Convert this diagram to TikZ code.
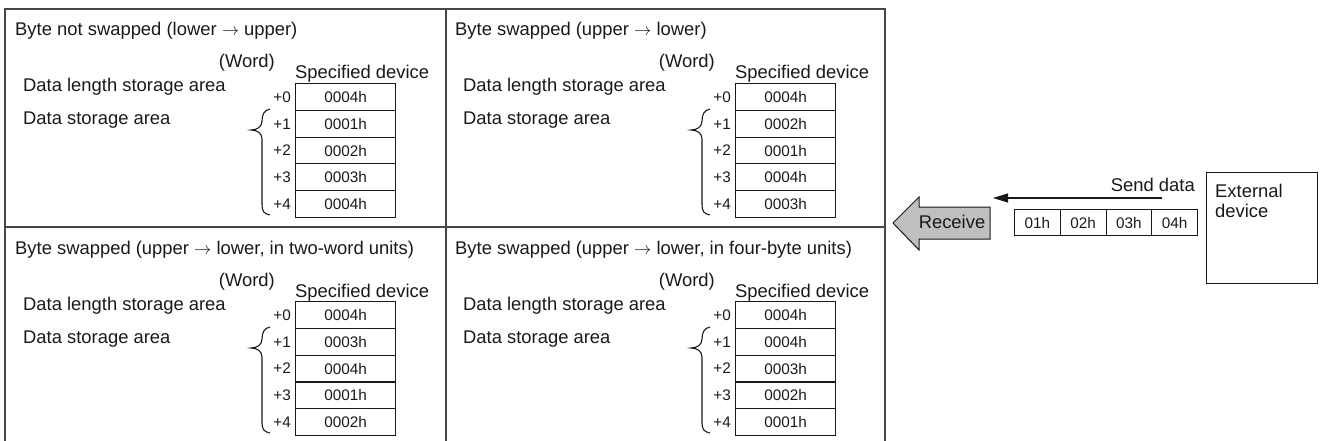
\documentclass[tikz,border=0pt]{standalone}
\usepackage{fontspec}
\setmainfont{Liberation Sans}
\usetikzlibrary{arrows.meta, positioning}
\colorlet{frame}{black!72}
\colorlet{ink}{black!90}
\colorlet{recvfill}{black!25}

\newcommand\toarr{$\rightarrow$}

% one panel: name, origin x, origin y, title, words +1..+4
\newcommand\datapanel[8]{%
  \begin{scope}[shift={(#2,#3)}]
    \node[bigtext, anchor=base west] (#1-title) at (10,27) {#4};
    \node[bigtext, anchor=base east] (#1-word) at (270,59) {(Word)};
    \node[bigtext, anchor=base west] (#1-dev) at (290,70) {Specified device};
    \node[bigtext, anchor=base west] (#1-len) at (18,83) {Data length storage area};
    \node[bigtext, anchor=base west] (#1-data) at (18,116) {Data storage area};
    \foreach \i/\v in {0/0004h, 1/#5, 2/#6, 3/#7, 4/#8} {
      \node[cell, anchor=north west] (#1-r\i) at (290,{74+26.8*\i}) {\v};
      \node[offs, left=4pt of #1-r\i] (#1-o\i) {+\i};
    }
    \draw[ink, line width=1.1pt] (265,100) .. controls (259,101) and (257,106) .. (257,112)
      .. controls (257,118) and (252,121) .. (246,121)
      .. controls (252,121) and (257,124) .. (257,130) -- (257,196)
      .. controls (257,202) and (259,205) .. (265,206);
  \end{scope}}

\begin{document}
\begin{tikzpicture}[x=1pt, y=-1pt,
    bigtext/.style={inner sep=0pt, text=ink, font=\fontsize{18.4}{20}\selectfont},
    smalltext/.style={inner sep=0pt, text=ink, font=\fontsize{15.3}{17}\selectfont},
    cell/.style={smalltext, draw=ink, line width=1.1pt, minimum width=100pt, minimum height=26.8pt},
    offs/.style={smalltext},
    byte/.style={smalltext, draw=ink, line width=1.1pt, minimum width=45.75pt, minimum height=26pt},
    >={Triangle[length=15pt, width=9pt]}]

  \useasboundingbox (0,0) rectangle (1320,441);

  % --- frame of the four panels ----------------------------------------------
  \draw[frame, line width=1.5pt] (5,441) -- (5,9) -- (885,9) -- (885,441);
  \draw[frame, line width=1.5pt] (446,9) -- (446,441);
  \draw[frame, line width=1.5pt] (5,227) -- (885,227);

  % --- the four storage results -----------------------------------------------
  \datapanel{ns}{5}{9}{Byte not swapped (lower \toarr\ upper)}{0001h}{0002h}{0003h}{0004h}
  \datapanel{sw}{445}{9}{Byte swapped (upper \toarr\ lower)}{0002h}{0001h}{0004h}{0003h}
  \datapanel{tw}{5}{227}{Byte swapped (upper \toarr\ lower, in two-word units)}{0003h}{0004h}{0001h}{0002h}
  \datapanel{fb}{445}{227}{Byte swapped (upper \toarr\ lower, in four-byte units)}{0004h}{0003h}{0002h}{0001h}

  % --- receive side -----------------------------------------------------------
  \filldraw[ink, fill=recvfill, line width=1pt] (893,223) -- (919,197) -- (919,207)
    -- (990,207) -- (990,239) -- (919,239) -- (919,250) -- cycle;
  \node[bigtext, anchor=base] (recv) at (952,228) {Receive};

  \foreach \b [count=\k] in {01h,02h,03h,04h}
    \node[byte, anchor=north west] (b\k) at ({1014+45.75*(\k-1)},209) {\b};

  \coordinate (sendS) at (1162,198);
  \coordinate (sendE) at (993,198);
  \draw[ink, line width=1.2pt, ->] (sendS) -- (sendE);
  \node[bigtext, anchor=base east] (send) at (1195,191) {Send data};

  % --- external device --------------------------------------------------------
  \node[draw=ink, line width=1.2pt, minimum width=111pt, minimum height=111pt,
        anchor=north west] (ext) at (1206,172) {};
  \node[bigtext, align=left, anchor=north west] (extlbl) at (1215,184) {External\\device};

\end{tikzpicture}
\end{document}
